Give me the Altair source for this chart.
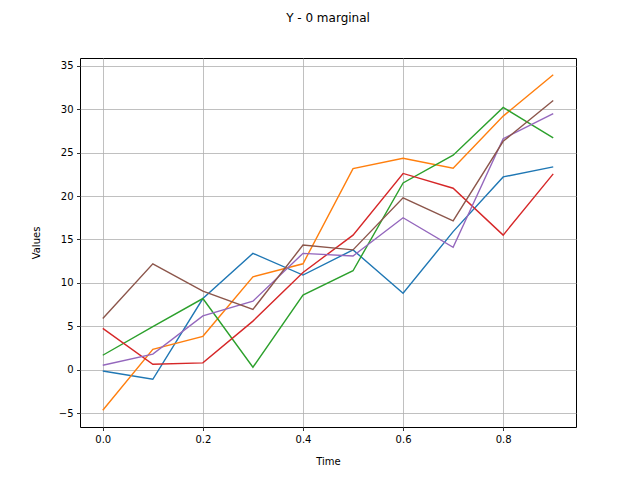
import altair as alt
import pandas as pd

times = [0.0, 0.1, 0.2, 0.3, 0.4, 0.5, 0.6, 0.7, 0.8, 0.9]
s0 = [-0.15, -1.1, 8.2, 13.4, 10.9, 13.8, 8.8, 15.9, 22.2, 23.35]
s1 = [-4.66, 2.36, 3.85, 10.7, 12.2, 23.15, 24.35, 23.2, 29.2, 33.96]
s2 = [1.67, 4.96, 8.2, 0.29, 8.6, 11.4, 21.5, 24.7, 30.2, 26.7]
s3 = [4.77, 0.63, 0.79, 5.6, 11.2, 15.5, 22.6, 20.9, 15.5, 22.55]
s4 = [0.52, 1.8, 6.2, 7.9, 13.4, 13.1, 17.5, 14.1, 26.6, 29.5]
s5 = [5.9, 12.2, 9.06, 6.95, 14.35, 13.8, 19.8, 17.15, 26.3, 31.0]

series = {"s0": s0, "s1": s1, "s2": s2, "s3": s3, "s4": s4, "s5": s5}
colors = ["#1f77b4", "#ff7f0e", "#2ca02c", "#d62728", "#9467bd", "#8c564b"]

rows = []
for name, vals in series.items():
    for t, v in zip(times, vals):
        rows.append({"Time": t, "Values": v, "series": name})
df = pd.DataFrame(rows)

chart = alt.Chart(df).mark_line(strokeWidth=1.4, clip=True).encode(
    x=alt.X("Time:Q",
            scale=alt.Scale(domain=[-0.0455, 0.9455], nice=False, zero=False),
            axis=alt.Axis(values=[0.0, 0.2, 0.4, 0.6, 0.8], format=".1f", title="Time",
                          titlePadding=12, titleFontWeight="normal")),
    y=alt.Y("Values:Q",
            scale=alt.Scale(domain=[-6.59, 35.89], nice=False, zero=False),
            axis=alt.Axis(values=list(range(-5, 40, 5)), title="Values", titlePadding=17,
                          titleFontWeight="normal")),
    color=alt.Color("series:N", scale=alt.Scale(domain=list(series.keys()), range=colors),
                    legend=None),
    order=alt.Order("series:N"),
).properties(
    width=496,
    height=369,
    background="white",
    title=alt.TitleParams("Y - 0 marginal", fontSize=12, font="DejaVu Sans",
                          fontWeight="normal", anchor="middle", offset=33, color="black"),
    autosize=alt.AutoSizeParams(type="none"),
    padding={"left": 80, "top": 58, "right": 64, "bottom": 53},
).configure_axis(
    grid=True,
    gridColor="#b0b0b0",
    gridWidth=0.8,
    gridOpacity=1,
    domain=False,
    tickColor="black",
    tickSize=3.5,
    tickWidth=0.8,
    labelPadding=3.5,
    labelFont="DejaVu Sans",
    labelFontSize=10,
    labelColor="black",
    titleFont="DejaVu Sans",
    titleFontSize=10,
    titleFontWeight="normal",
    titleColor="black",
).configure_view(
    stroke="black",
    strokeWidth=1,
)

chart.save("out.html", embed_options={"renderer": "svg", "actions": False})
